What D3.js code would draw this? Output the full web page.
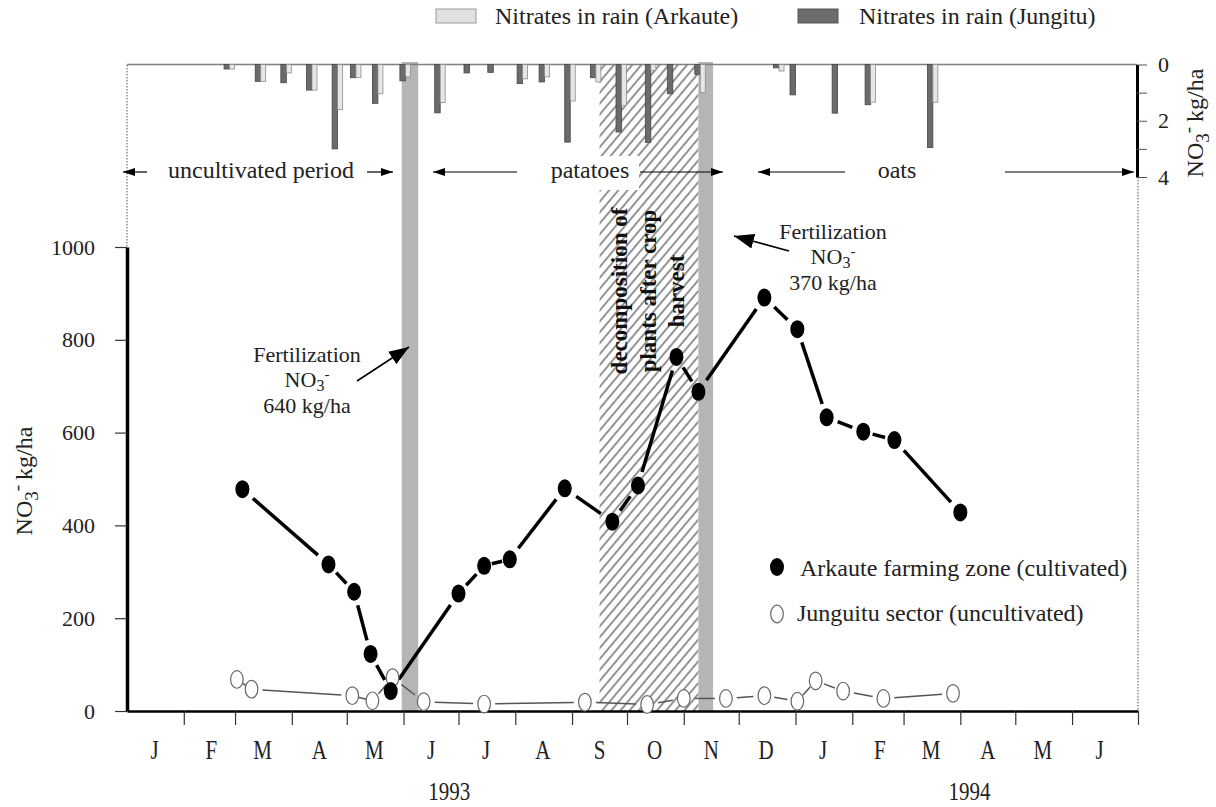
<!DOCTYPE html>
<html><head><meta charset="utf-8">
<script src="https://cdn.jsdelivr.net/npm/d3@7"></script>
<style>
body{margin:0;background:#fff;}
svg{display:block;font-family:"Liberation Serif","Times New Roman",serif;}
</style></head><body>
<svg id="c" width="1216" height="807"></svg>
<script>
// ---------- data ----------
const monthLabels = ["J","F","M","A","M","J","J","A","S","O","N","D","J","F","M","A","M","J"];
const yearLabels = ["1993","1994"];
const yearLabelDates = ["1993-06-26","1994-04-06"];
const yTicks = [0,200,400,600,800,1000];
const rainTicks = [0,1,2,3,4];

const arkauteDates = ["1993-03-05","1993-04-21","1993-05-05","1993-05-14","1993-05-25","1993-07-01","1993-07-15","1993-07-29","1993-08-28","1993-09-23","1993-10-07","1993-10-28","1993-11-09","1993-12-15","1994-01-02","1994-01-18","1994-02-07","1994-02-24","1994-04-01"];
const arkauteNO3 = [478,316,257,123,43,253,313,327,480,408,486,763,688,891,823,633,602,584,428];

const junguituDates = ["1993-03-02","1993-03-10","1993-05-04","1993-05-15","1993-05-26","1993-06-12","1993-07-15","1993-09-08","1993-10-12","1993-11-01","1993-11-24","1993-12-15","1994-01-02","1994-01-12","1994-01-27","1994-02-18","1994-03-28"];
const junguituNO3 = [68,47,33,22,72,20,15,19,14,27,27,33,21,65,43,27,38];

const rainDates = ["1993-02-26","1993-03-15","1993-03-29","1993-04-12","1993-04-26","1993-05-06","1993-05-18","1993-06-02","1993-06-21","1993-07-07","1993-07-20","1993-08-05","1993-08-17","1993-08-31","1993-09-14","1993-09-28","1993-10-14","1993-10-26","1993-11-10","1993-12-23","1994-01-01","1994-01-24","1994-02-11","1994-03-17"];
const rainJungitu = [0.16,0.6,0.65,0.91,3.0,0.47,1.38,0.58,1.72,0.3,0.28,0.68,0.62,2.76,0.47,2.4,2.77,1.04,0.35,0.12,1.08,1.73,1.43,2.95];
const rainArkaute = [0.16,0.6,0.3,0.91,1.6,0.47,1.04,0.44,1.35,0,0,0.51,0.44,1.3,0.62,1.46,0.21,0,1.0,0.23,0,0,1.34,1.34];

const fertBands = [["1993-05-31","1993-06-09"],["1993-11-09","1993-11-17"]];
const decompPeriod = ["1993-09-16","1993-11-09"];

// ---------- setup ----------
const parse = d3.timeParse("%Y-%m-%d");
const svg = d3.select("#c");
const x = d3.scaleTime().domain([parse("1993-01-01"), parse("1994-07-07")]).range([127,1138]);
const y = d3.scaleLinear().domain([0,1000]).range([711,247]);
const yr = d3.scaleLinear().domain([0,4]).range([64.5,177]);
const FONT = '"Liberation Serif","Times New Roman",serif';

const defs = svg.append("defs");
defs.append("pattern").attr("id","hatch").attr("patternUnits","userSpaceOnUse")
  .attr("width",7).attr("height",7).attr("patternTransform","rotate(40)")
  .append("line").attr("x1",1).attr("y1",0).attr("x2",1).attr("y2",7)
  .attr("stroke","#3a3a3a").attr("stroke-width",1.1);
function marker(id,w,h){
  defs.append("marker").attr("id",id).attr("markerUnits","userSpaceOnUse")
    .attr("markerWidth",w).attr("markerHeight",h).attr("refX",w).attr("refY",h/2)
    .attr("orient","auto").append("path")
    .attr("d",`M0,0L${w},${h/2}L0,${h}Z`).attr("fill","#000");
}
marker("ahBig",20,15);
marker("ahSmall",12,8);

// hatch (decomposition period)
svg.append("rect").attr("x",x(parse(decompPeriod[0]))).attr("y",64)
  .attr("width",x(parse(decompPeriod[1]))-x(parse(decompPeriod[0]))).attr("height",711-64)
  .attr("fill","url(#hatch)");

// fertilization bands
svg.selectAll("rect.band").data(fertBands).join("rect").attr("class","band")
  .attr("x",d=>x(parse(d[0]))).attr("y",62)
  .attr("width",d=>x(parse(d[1]))-x(parse(d[0]))).attr("height",711-62)
  .attr("fill","#b5b5b5");

// top baseline of rain panel
svg.append("line").attr("x1",127).attr("x2",1137).attr("y1",64.5).attr("y2",64.5)
  .attr("stroke","#808080").attr("stroke-width",1.5);

// rain bars
const bw = 5.5;
const rain = rainDates.map((d,i)=>({date:parse(d), j:rainJungitu[i], a:rainArkaute[i]}));
svg.selectAll("rect.rj").data(rain).join("rect").attr("class","rj")
  .attr("x",d=>x(d.date)-bw).attr("y",yr(0)).attr("width",bw)
  .attr("height",d=>yr(d.j)-yr(0))
  .attr("fill","#6b6b6b").attr("stroke","#474747").attr("stroke-width",0.8);
svg.selectAll("rect.ra").data(rain.filter(d=>d.a>0)).join("rect").attr("class","ra")
  .attr("x",d=>x(d.date)).attr("y",yr(0)).attr("width",bw-0.5)
  .attr("height",d=>yr(d.a)-yr(0))
  .attr("fill","#e6e6e6").attr("stroke","#8c8c8c").attr("stroke-width",0.8);

// dotted frame lines
svg.append("line").attr("x1",127).attr("x2",127).attr("y1",65).attr("y2",247)
  .attr("stroke","#555").attr("stroke-width",1).attr("stroke-dasharray","1.5,1.5");
svg.append("line").attr("x1",1138).attr("x2",1138).attr("y1",177).attr("y2",711)
  .attr("stroke","#555").attr("stroke-width",1).attr("stroke-dasharray","1.5,1.5");

// left axis
const gl = svg.append("g").attr("transform","translate(127,0)")
  .call(d3.axisLeft(y).tickValues(yTicks).tickSize(12).tickSizeOuter(0).tickPadding(20).tickFormat(d3.format("d")));
gl.attr("font-family",FONT).attr("font-size",22);
gl.select(".domain").attr("stroke","#000").attr("stroke-width",3.5);
gl.selectAll(".tick line").attr("stroke","#333").attr("stroke-width",1.2);
gl.selectAll(".tick text").attr("fill","#222");

// bottom axis
const monthStarts = d3.timeMonth.range(parse("1993-02-01"), parse("1994-07-01"));
const gb = svg.append("g").attr("transform","translate(0,711)")
  .call(d3.axisBottom(x).tickValues(monthStarts.concat([x.domain()[1]])).tickSize(14).tickSizeOuter(0).tickFormat(""));
gb.select(".domain").attr("stroke","#000").attr("stroke-width",2.5);
gb.selectAll(".tick line").attr("stroke","#333").attr("stroke-width",1.2);

const monthMids = d3.timeMonth.range(parse("1993-01-01"), parse("1994-07-01")).map(d=>d3.timeDay.offset(d,15));
svg.selectAll("text.month").data(monthMids).join("text").attr("class","month")
  .attr("transform",d=>`translate(${x(d)},759) scale(1,1.25)`).attr("text-anchor","middle")
  .attr("font-size",21).attr("fill","#222").text((d,i)=>monthLabels[i]);
svg.selectAll("text.year").data(yearLabels).join("text").attr("class","year")
  .attr("transform",(d,i)=>`translate(${x(parse(yearLabelDates[i]))},800) scale(1,1.2)`).attr("text-anchor","middle")
  .attr("font-size",21).attr("fill","#222").text(d=>d);

// right rain axis
const gr = svg.append("g").attr("transform","translate(1137,0)")
  .call(d3.axisRight(yr).tickValues(rainTicks).tickSize(10).tickSizeOuter(0).tickPadding(11)
    .tickFormat(d=>d%2===0?d:""));
gr.attr("font-family",FONT).attr("font-size",22);
gr.select(".domain").attr("stroke","#000").attr("stroke-width",3);
gr.selectAll(".tick line").attr("stroke","#555").attr("stroke-width",1);
gr.selectAll(".tick text").attr("fill","#222");

// axis titles
function no3Title(g, size){
  const t = g.append("text").attr("text-anchor","middle").attr("font-size",size).attr("fill","#222");
  t.append("tspan").text("NO");
  t.append("tspan").attr("font-size",size*0.8).attr("dy",size*0.25).text("3");
  t.append("tspan").attr("font-size",size*0.8).attr("dy",-size*0.62).text("-");
  t.append("tspan").attr("dy",size*0.37).text("\u2009kg/ha");
  return t;
}
no3Title(svg.append("g").attr("transform","translate(32,481) rotate(-90)"),24);
no3Title(svg.append("g").attr("transform","translate(1203,123) rotate(-90)"),24);

// period labels
svg.append("rect").attr("x",599).attr("y",156).attr("width",40).attr("height",34).attr("fill","#fff");
const periodTexts = [["uncultivated period",261],["patatoes",590],["oats",897]];
svg.selectAll("text.period").data(periodTexts).join("text").attr("class","period")
  .attr("x",d=>d[1]).attr("y",178).attr("text-anchor","middle").attr("font-size",24)
  .attr("fill","#222").text(d=>d[0]);
const periodArrows = [[147,123],[367,393],[517,433],[640,723],[845,758],[1005,1134]];
svg.selectAll("line.parr").data(periodArrows).join("line").attr("class","parr")
  .attr("x1",d=>d[0]).attr("x2",d=>d[1]).attr("y1",172).attr("y2",172)
  .attr("stroke","#000").attr("stroke-width",1.2).attr("marker-end","url(#ahSmall)");

// decomposition text
const dec = svg.append("text").attr("transform","translate(627,291) rotate(-90)")
  .attr("text-anchor","middle").attr("font-size",23).attr("font-weight","bold").attr("fill","#111");
["decomposition of","plants after crop","harvest"].forEach((s,i)=>{
  dec.append("tspan").attr("x",0).attr("dy",i===0?0:28.5).text(s);
});

// series lines (with gaps around markers)
function segs(dates, vals, trim){
  const pts = dates.map((d,i)=>[x(parse(d)), y(vals[i])]);
  const out = [];
  for(let i=0;i<pts.length-1;i++){
    const [x1,y1]=pts[i],[x2,y2]=pts[i+1];
    const L=Math.hypot(x2-x1,y2-y1); const t=Math.min(trim, L*0.3);
    if(L<2*t+3) continue;
    const ux=(x2-x1)/L, uy=(y2-y1)/L;
    out.push([x1+ux*t,y1+uy*t,x2-ux*t,y2-uy*t]);
  }
  return out;
}
svg.selectAll("line.jl").data(segs(junguituDates,junguituNO3,11)).join("line").attr("class","jl")
  .attr("x1",d=>d[0]).attr("y1",d=>d[1]).attr("x2",d=>d[2]).attr("y2",d=>d[3])
  .attr("stroke","#555").attr("stroke-width",1.5);
svg.selectAll("line.al").data(segs(arkauteDates,arkauteNO3,14)).join("line").attr("class","al")
  .attr("x1",d=>d[0]).attr("y1",d=>d[1]).attr("x2",d=>d[2]).attr("y2",d=>d[3])
  .attr("stroke","#000").attr("stroke-width",3.5);

svg.selectAll("ellipse.jm").data(junguituDates).join("ellipse").attr("class","jm")
  .attr("cx",d=>x(parse(d))).attr("cy",(d,i)=>y(junguituNO3[i])).attr("rx",6.3).attr("ry",8.8)
  .attr("fill","#fff").attr("stroke","#666").attr("stroke-width",1.2);
svg.selectAll("ellipse.am").data(arkauteDates).join("ellipse").attr("class","am")
  .attr("cx",d=>x(parse(d))).attr("cy",(d,i)=>y(arkauteNO3[i])).attr("rx",7).attr("ry",9)
  .attr("fill","#000");

// fertilization annotations
function fert(cx, y0, amount){
  const g = svg.append("g").attr("font-size",22).attr("fill","#222").attr("text-anchor","middle");
  g.append("text").attr("x",cx).attr("y",y0).text("Fertilization");
  const t = g.append("text").attr("x",cx).attr("y",y0+25);
  t.append("tspan").text("NO");
  t.append("tspan").attr("font-size",16).attr("dy",4).text("3");
  t.append("tspan").attr("font-size",15).attr("dy",-12).text("-");
  g.append("text").attr("x",cx).attr("y",y0+51).text(amount);
}
fert(307,362,"640 kg/ha");
fert(833,239,"370 kg/ha");
svg.append("line").attr("x1",357).attr("y1",381).attr("x2",409).attr("y2",347)
  .attr("stroke","#000").attr("stroke-width",1.6).attr("marker-end","url(#ahBig)");
svg.append("line").attr("x1",789).attr("y1",251).attr("x2",734).attr("y2",236)
  .attr("stroke","#000").attr("stroke-width",1.6).attr("marker-end","url(#ahBig)");

// in-chart legend
svg.append("ellipse").attr("cx",777).attr("cy",567).attr("rx",7).attr("ry",9).attr("fill","#000");
svg.append("text").attr("x",800).attr("y",576).attr("font-size",24).attr("fill","#222")
  .text("Arkaute farming zone (cultivated)");
svg.append("ellipse").attr("cx",777).attr("cy",614).attr("rx",6.3).attr("ry",8.8)
  .attr("fill","#fff").attr("stroke","#666").attr("stroke-width",1.2);
svg.append("text").attr("x",797).attr("y",621).attr("font-size",24).attr("fill","#222")
  .text("Junguitu sector (uncultivated)");

// top legend
svg.append("rect").attr("x",436).attr("y",9).attr("width",40).attr("height",14)
  .attr("fill","#e2e2e2").attr("stroke","#999").attr("stroke-width",1);
svg.append("text").attr("x",495).attr("y",24).attr("font-size",24).attr("fill","#222")
  .text("Nitrates in rain (Arkaute)");
svg.append("rect").attr("x",798).attr("y",9).attr("width",40).attr("height",14)
  .attr("fill","#6b6b6b").attr("stroke","#555").attr("stroke-width",1);
svg.append("text").attr("x",859).attr("y",24).attr("font-size",24).attr("fill","#222")
  .text("Nitrates in rain (Jungitu)");
</script></body></html>
